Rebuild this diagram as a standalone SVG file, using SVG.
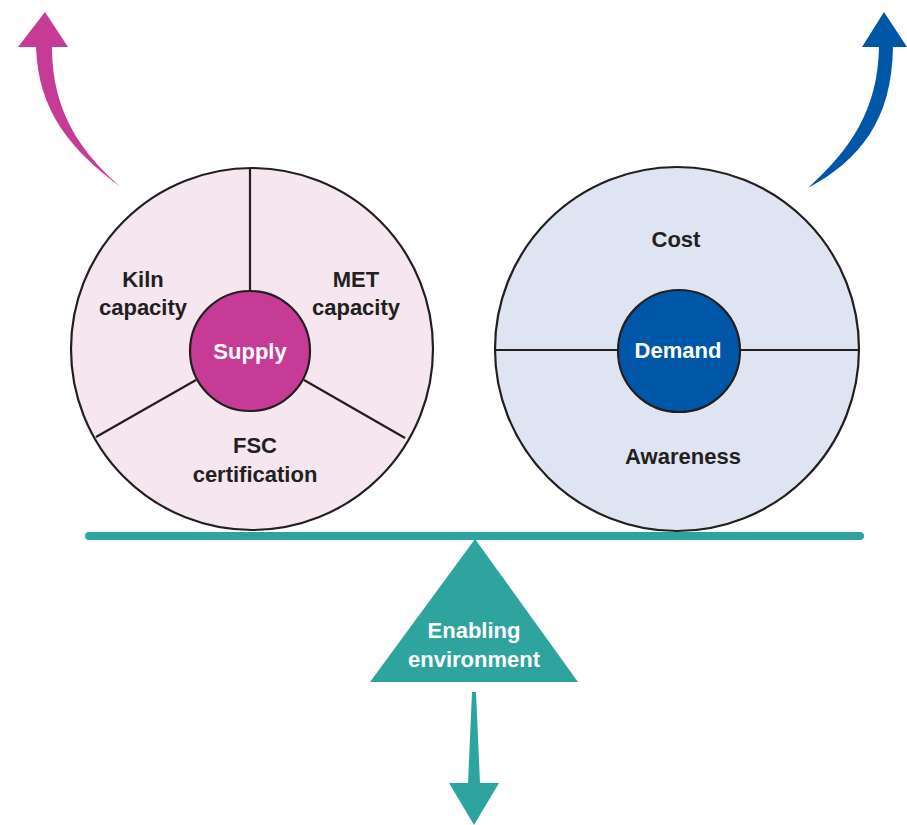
<svg xmlns="http://www.w3.org/2000/svg" width="907" height="825" viewBox="0 0 907 825">
<style>
.lbl{font-family:"Liberation Sans",Arial,sans-serif;font-weight:bold;font-size:22px;fill:#231f20;text-anchor:middle}
.wl{fill:#ffffff}
.div{stroke:#231f20;stroke-width:2.2;fill:none}
</style>
<rect width="907" height="825" fill="#ffffff"/>
<g id="connectors">
  <path id="arrow-supply" d="M122,188 C90,160 52,120 52,47 L68,47 L45,12 L18,47 L36,47 C38,110 70,150 122,188 Z" fill="#c63b96"/>
  <path id="arrow-demand" d="M808,188 C850,150 878,110 879,47 L862,47 L884,12 L907,47 L893,47 C892,120 860,160 808,188 Z" fill="#0057a8"/>
  <path id="arrow-env" d="M472,692 L476,692 L480,783 L499,783 L474,825 L449,783 L468,783 Z" fill="#2fa39e"/>
</g>
<g id="supply">
  <circle cx="252" cy="349" r="181" fill="#f5e6f0" stroke="#231f20" stroke-width="2.2"/>
  <line class="div" x1="250" y1="168" x2="250" y2="292"/>
  <line class="div" x1="196" y1="380" x2="96" y2="437"/>
  <line class="div" x1="304" y1="380" x2="405" y2="438"/>
  <circle cx="250" cy="351" r="60" fill="#c63b96" stroke="#231f20" stroke-width="2.2"/>
  <text class="lbl" x="143" y="287">Kiln</text>
  <text class="lbl" x="143" y="315">capacity</text>
  <text class="lbl" x="356" y="287">MET</text>
  <text class="lbl" x="356" y="315">capacity</text>
  <text class="lbl" x="255" y="453">FSC</text>
  <text class="lbl" x="255" y="482">certification</text>
  <text class="lbl wl" x="250" y="359">Supply</text>
</g>
<g id="demand">
  <circle cx="677" cy="349" r="182" fill="#dfe4f2" stroke="#231f20" stroke-width="2.2"/>
  <line class="div" x1="495" y1="350" x2="618" y2="350"/>
  <line class="div" x1="740" y1="350" x2="859" y2="350"/>
  <circle cx="679" cy="351" r="61" fill="#0057a8" stroke="#231f20" stroke-width="2.2"/>
  <text class="lbl" x="676" y="247">Cost</text>
  <text class="lbl" x="683" y="464">Awareness</text>
  <text class="lbl wl" x="678" y="358">Demand</text>
</g>
<g id="beam">
  <line x1="89" y1="536" x2="860" y2="536" stroke="#2fa39e" stroke-width="8" stroke-linecap="round"/>
</g>
<g id="enabling">
  <polygon points="475,539 578,682 370,682" fill="#2fa39e"/>
  <text class="lbl wl" x="474" y="638">Enabling</text>
  <text class="lbl wl" x="474" y="667">environment</text>
</g>
</svg>
